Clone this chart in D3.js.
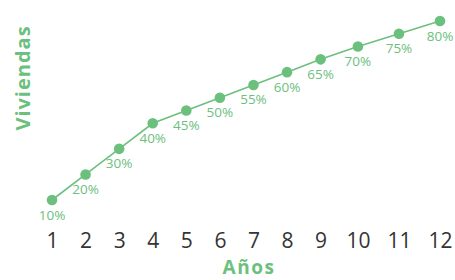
<!DOCTYPE html>
<html><head><meta charset="utf-8">
<script src="https://cdn.jsdelivr.net/npm/d3@7"></script>
<style>
body{margin:0;background:#fff}
svg{display:block}
</style>
</head><body>
<svg id="chart" width="455" height="280"></svg>
<script>
// ---- data ----
const years = ["1","2","3","4","5","6","7","8","9","10","11","12"];
const values = [10, 20, 30, 40, 45, 50, 55, 60, 65, 70, 75, 80];
const valueLabels = ["10%","20%","30%","40%","45%","50%","55%","60%","65%","70%","75%","80%"];
const xTitle = "Años";
const yTitle = "Viviendas";

// ---- style ----
const green = "#6cc07e";
const dark = "#343434";
const font = "'Open Sans', Lato, sans-serif";
const tickSize = 21;

const svg = d3.select("#chart");

// measure tick labels (they are laid out with a constant gap, like the reference)
const meas = svg.append("text").style("font-family", font).style("font-size", tickSize + "px").style("font-weight", 500);
const widths = years.map(t => { meas.text(t); return meas.node().getComputedTextLength(); });
meas.remove();
const gap = tickSize * 2;
const cum = [];
widths.forEach((w, i) => {
  cum.push(i === 0 ? w / 2 : cum[i - 1] + widths[i - 1] / 2 + gap + w / 2);
});
const lin = d3.scaleLinear().domain([cum[0], cum[cum.length - 1]]).range([52, 440]);
const x = d3.scaleOrdinal().domain(years).range(cum.map(lin));
const y = d3.scaleLinear().domain([d3.min(values), d3.max(values)]).range([200, 21]);

// x axis (labels only)
const ax = svg.append("g").attr("transform", "translate(0,248)")
  .call(d3.axisBottom(x).tickSize(0).tickPadding(0));
ax.select(".domain").remove();
ax.selectAll("text")
  .attr("dy", 0)
  .style("font-family", font)
  .style("font-size", tickSize + "px")
  .style("font-weight", 500)
  .attr("fill", dark);

// line
const line = d3.line().x((d, i) => x(years[i])).y(d => y(d));
svg.append("path").datum(values)
  .attr("d", line).attr("fill", "none")
  .attr("stroke", green).attr("stroke-width", 1.6);

// points
svg.append("g").selectAll("circle").data(values).join("circle")
  .attr("cx", (d, i) => x(years[i])).attr("cy", d => y(d))
  .attr("r", 5.3).attr("fill", green);

// value labels
svg.append("g").selectAll("text").data(values).join("text")
  .attr("x", (d, i) => x(years[i])).attr("y", d => y(d) + 19.5)
  .attr("text-anchor", "middle")
  .style("font-family", font).style("font-size", "13.5px")
  .attr("fill", green)
  .text((d, i) => valueLabels[i]);

// axis titles
svg.append("text")
  .attr("x", 249).attr("y", 274)
  .attr("text-anchor", "middle")
  .style("font-family", font).style("font-size", "19px").style("font-weight", 700)
  .style("letter-spacing", "1.5px")
  .attr("fill", green).text(xTitle);

svg.append("text")
  .attr("transform", "translate(30,78) rotate(-90)")
  .attr("text-anchor", "middle")
  .style("font-family", font).style("font-size", "20px").style("font-weight", 700)
  .style("letter-spacing", "1px")
  .attr("fill", green).text(yTitle);
</script>
</body></html>
